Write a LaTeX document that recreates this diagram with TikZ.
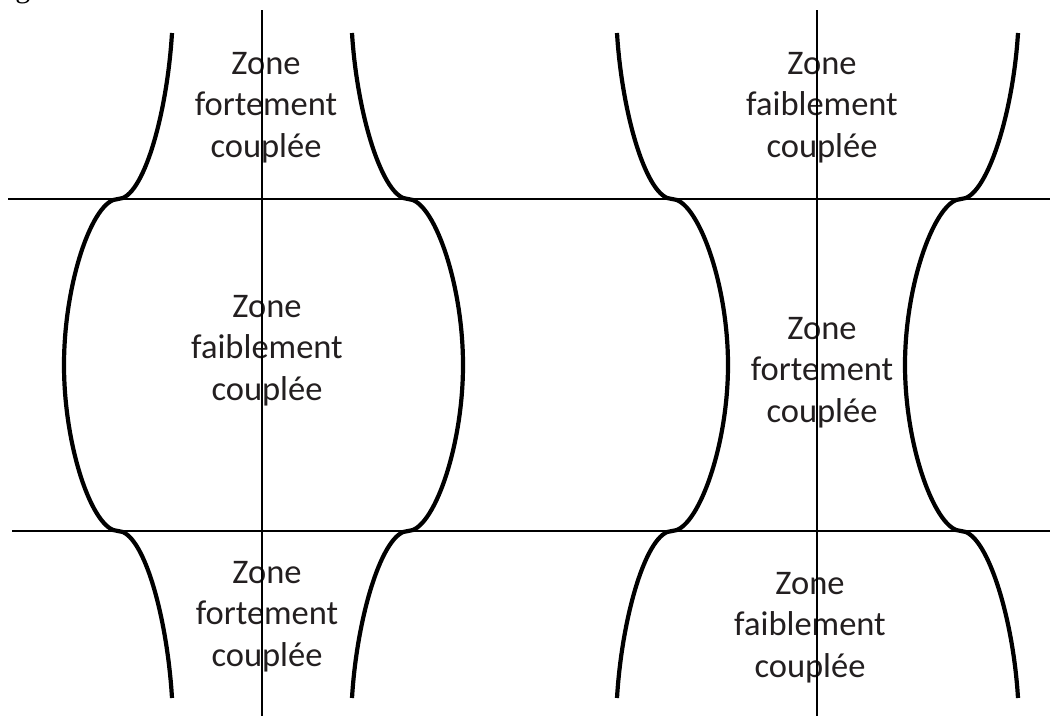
\documentclass[tikz,border=0pt]{standalone}
\usepackage{fontspec}
\setmainfont{Carlito}
\newfontfamily\figfont{Liberation Serif}
\definecolor{txt}{RGB}{35,31,32}
\begin{document}
\begin{tikzpicture}[x=1pt,y=-1pt,
  curve/.style={line width=4.2pt},
  axis/.style={line width=2pt},
  lab/.style={font=\fontsize{34.5}{41.5}\selectfont, text=txt, align=center, inner sep=0pt, anchor=base}]
\useasboundingbox (0,0) rectangle (1058,716);

% cut-off caption letter at the top left
\node[font=\figfont\fontsize{30}{36}\selectfont, anchor=south, inner sep=0pt] (g) at (23,4) {g};

% labels (anchored at the baseline of the last line)
\node[lab] (tl) at (266,157) {Zone\\fortement\\couplée};
\node[lab] (tr) at (822,157) {Zone\\faiblement\\couplée};
\node[lab] (ml) at (267,400) {Zone\\faiblement\\couplée};
\node[lab] (mr) at (822,422) {Zone\\fortement\\couplée};
\node[lab] (bl) at (267,666) {Zone\\fortement\\couplée};
\node[lab] (br) at (810,677) {Zone\\faiblement\\couplée};

% axes
\draw[axis] (8,199) -- (1050,199);
\draw[axis] (12,531) -- (1050,531);
\draw[axis] (262,10) -- (262,716);
\draw[axis] (817,10) -- (817,716);

% left figure
\draw[curve] (172,33) .. controls (167,115) and (143,199) .. (118,199)
  .. controls (93,199) and (64,282) .. (64,365)
  .. controls (64,448) and (93,531) .. (118,531)
  .. controls (143,531) and (167,615) .. (172,698);
\draw[curve] (352,33) .. controls (357,115) and (383,199) .. (408,199)
  .. controls (433,199) and (463,282) .. (463,365)
  .. controls (463,448) and (433,531) .. (408,531)
  .. controls (383,531) and (357,615) .. (352,698);

% right figure
\draw[curve] (617,33) .. controls (622,115) and (647,199) .. (672,199)
  .. controls (697,199) and (728,282) .. (728,365)
  .. controls (728,448) and (697,531) .. (672,531)
  .. controls (647,531) and (622,615) .. (617,698);
\draw[curve] (1018,33) .. controls (1013,115) and (986,199) .. (961,199)
  .. controls (936,199) and (905,282) .. (905,365)
  .. controls (905,448) and (936,531) .. (961,531)
  .. controls (986,531) and (1013,615) .. (1018,698);
\end{tikzpicture}
\end{document}
